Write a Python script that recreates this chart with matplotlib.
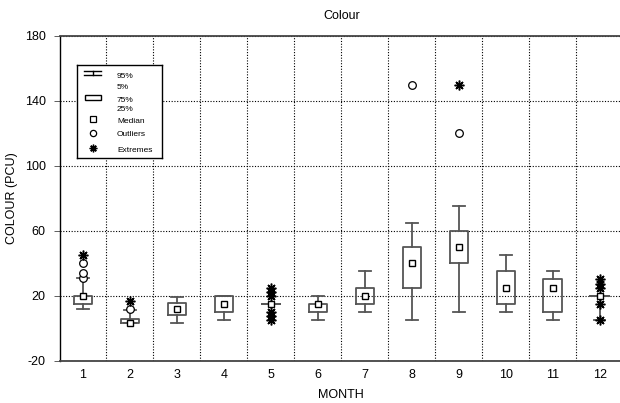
import matplotlib
matplotlib.use("Agg")
import matplotlib.pyplot as plt
from matplotlib.patches import Rectangle

plt.rcParams['font.family'] = ['Liberation Sans', 'DejaVu Sans']
plt.rcParams['axes.unicode_minus'] = False

# monthly colour statistics (PCU)
months = [1, 2, 3, 4, 5, 6, 7, 8, 9, 10, 11, 12]
p5 = [12, 3, 3, 5, 15, 5, 10, 5, 10, 10, 5, 5]
q1 = [15, 3, 8, 10, 15, 10, 15, 25, 40, 15, 10, 20]
median = [20, 3, 12, 15, 15, 15, 20, 40, 50, 25, 25, 20]
q3 = [20, 5.5, 15.5, 20, 15, 15, 25, 50, 60, 35, 30, 20]
p95 = [31, 11, 19, 20, 15, 20, 35, 65, 75, 45, 35, 20]
outliers = {1: [31, 34, 40], 2: [12], 8: [150], 9: [120]}
extremes = {1: [45], 2: [17], 5: [25, 22.5, 20, 10, 7.5, 5], 9: [150],
            12: [30, 27.5, 25, 15, 5]}

yticks = [-20, 20, 60, 100, 140, 180]

box_color = '#555555'
dot = (0, (1, 1.5))

fig = plt.figure(figsize=(6.2, 4.03), dpi=100)
ax = fig.add_axes([0.096, 0.105, 0.909, 0.806])

stats = []
for i, m in enumerate(months):
    stats.append(dict(med=median[i], q1=q1[i], q3=q3[i],
                      whislo=p5[i], whishi=p95[i], fliers=[]))

ax.bxp(stats, positions=months, widths=0.39, capwidths=0.25,
       showfliers=False, patch_artist=False,
       boxprops=dict(color=box_color, lw=1.3),
       whiskerprops=dict(color=box_color, lw=1.3),
       capprops=dict(color=box_color, lw=1.3),
       medianprops=dict(visible=False))

# medians as open squares
ax.plot(months, median, ls='none', marker='s', ms=5, mfc='white',
        mec='black', mew=1.0, zorder=4)

for m, vals in outliers.items():
    ax.plot([m] * len(vals), vals, ls='none', marker='o', ms=5.5,
            mfc='white', mec='black', mew=0.9, zorder=5)

for m, vals in extremes.items():
    ax.plot([m] * len(vals), vals, ls='none', marker=(8, 2, 0), ms=7,
            mec='black', mew=1.1, zorder=6)

ax.set_xlim(0.5, 12.5)
ax.set_ylim(-20, 180)
ax.set_xticks(months)
ax.set_xticklabels([str(m) for m in months])
ax.set_xticks([m + 0.5 for m in months[:-1]], minor=True)
ax.set_yticks(yticks)

ax.grid(True, which='major', axis='y', color='black', ls=dot, lw=0.8)
ax.grid(True, which='minor', axis='x', color='black', ls=dot, lw=0.8)
ax.set_axisbelow(True)

ax.tick_params(axis='x', which='both', length=0, pad=6, labelsize=9)
ax.tick_params(axis='y', length=4, width=0.6, color='#444444', pad=6,
               labelsize=9)

ax.spines['right'].set_visible(False)
ax.spines['left'].set_color('black')
ax.spines['left'].set_linewidth(1.0)
for s in ['top', 'bottom']:
    ax.spines[s].set_color('#444444')
    ax.spines[s].set_linewidth(1.3)

ax.set_title('Colour', fontsize=9, pad=12)
ax.set_xlabel('MONTH', fontsize=9, labelpad=6)
ax.set_ylabel('COLOUR (PCU)', fontsize=9, labelpad=5)

# key panel, laid out in pixel-like units
leg = ax.inset_axes([0.031, 0.624, 0.151, 0.286])
leg.set_xlim(0, 85)
leg.set_ylim(93, 0)
leg.set_xticks([])
leg.set_yticks([])
for s in leg.spines.values():
    s.set_color('black')
    s.set_linewidth(1.0)

leg.plot([7, 24], [5.5, 5.5], color='black', lw=1)
leg.plot([7, 24], [9.5, 9.5], color='black', lw=1)
leg.plot([15.5, 15.5], [5.5, 9.5], color='black', lw=1)
leg.add_patch(Rectangle((8, 30), 16, 5, fill=False, ec='black', lw=1))
leg.plot([15.5], [54.3], marker='s', ms=4.5, mfc='white', mec='black', mew=0.9)
leg.plot([15.5], [67.7], marker='o', ms=4.5, mfc='white', mec='black', mew=0.9)
leg.plot([16], [82.7], marker=(8, 2, 0), ms=5.5, mec='black', mew=1.0)

labels = [('95%', 11.3), ('5%', 22), ('75%', 35), ('25%', 44),
          ('Median', 56.7), ('Outliers', 69.7), ('Extremes', 85.7)]
for txt, y in labels:
    leg.text(40, y, txt, fontsize=6, va='center', ha='left')

fig.savefig('out.png', dpi=100)
